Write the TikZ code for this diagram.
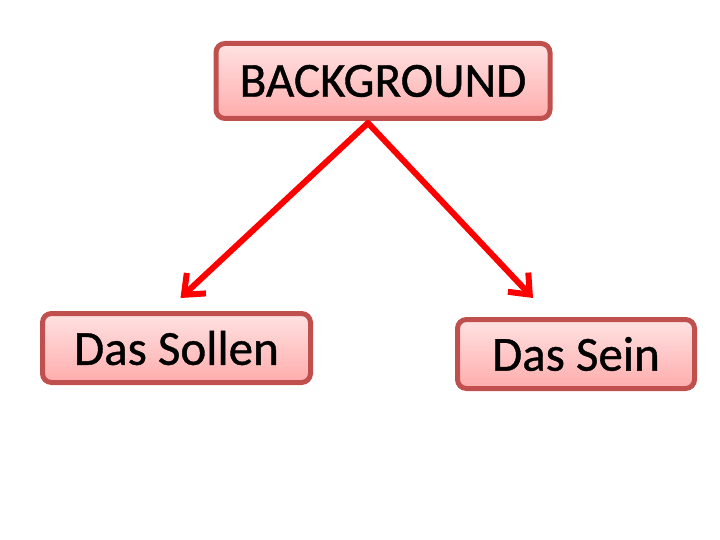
\documentclass[tikz,border=0pt]{standalone}
\usepackage{fontspec}
\setmainfont{Carlito}
\newfontfamily\boxfont[FakeBold=0.8]{Carlito}
\usepackage{tikz}
\usetikzlibrary{arrows.meta}

\definecolor{boxline}{RGB}{192,80,77}
\definecolor{boxtop}{RGB}{255,226,226}
\definecolor{boxbot}{RGB}{255,172,172}

\begin{document}
\begin{tikzpicture}[x=1pt,y=1pt,->,>={Straight Barb[length=17pt,width=28pt]},
  box node/.style={rectangle,rounded corners=9pt,draw=boxline,line width=5pt,
    top color=boxtop,bottom color=boxbot,inner sep=0pt,
    font=\boxfont\fontsize{49}{52}\selectfont},
  red arrow/.style={draw=red,line width=6pt,line cap=round,line join=round}]

  \useasboundingbox (0,0) rectangle (720,-540);

  \node[box node,minimum width=334pt,minimum height=75pt] (bg) at (383,-81) {BACKGROUND};
  \node[box node,minimum width=268pt,minimum height=69pt] (sollen) at (176.5,-348) {Das Sollen};
  \node[box node,minimum width=237pt,minimum height=69pt] (sein) at (576,-354) {Das Sein};

  \path[every edge/.style={red arrow}]
    ([xshift=-15pt,yshift=-2pt]bg.south) edge ([xshift=4pt,yshift=13pt]sollen.north)
    ([xshift=-15pt,yshift=-2pt]bg.south) edge ([xshift=-43pt,yshift=19pt]sein.north)
    ;

\end{tikzpicture}
\end{document}
